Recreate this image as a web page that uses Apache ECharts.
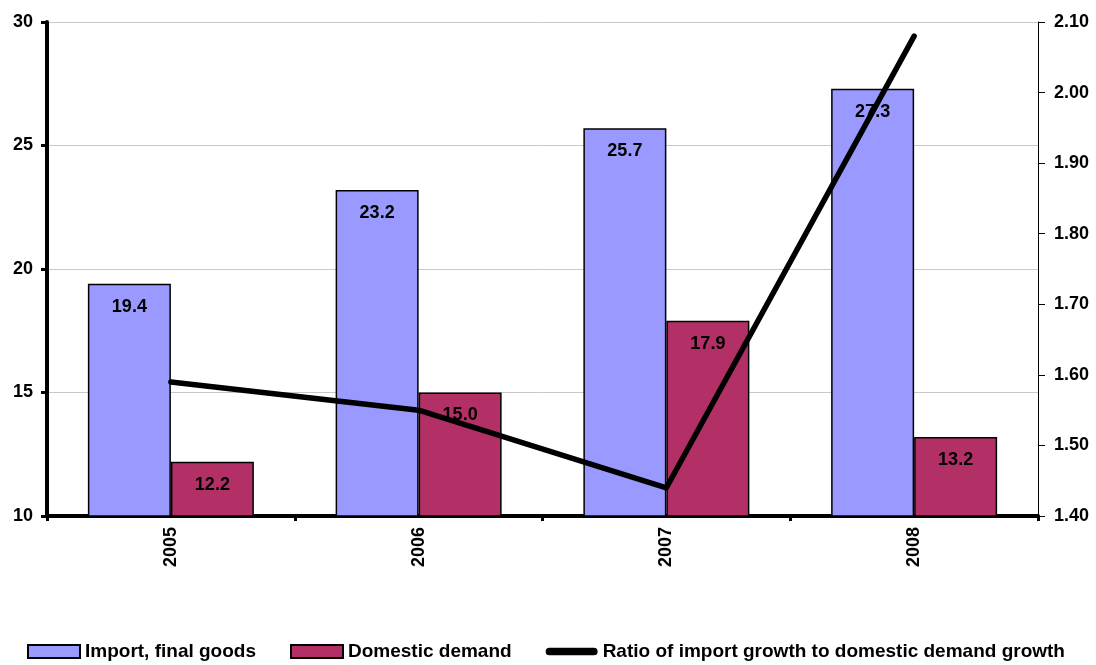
<!DOCTYPE html>
<html>
<head>
<meta charset="utf-8">
<script src="https://cdn.jsdelivr.net/npm/echarts@6/dist/echarts.min.js"></script>
<style>
  html, body { margin: 0; padding: 0; background: #fff; }
  #chart { width: 1096px; height: 665px; }
</style>
</head>
<body>
<div id="chart"></div>
<script>
// Years on the category axis
const years = ['2005', '2006', '2007', '2008'];
// Growth, % (left axis)
const importFinalGoods = [19.4, 23.2, 25.7, 27.3];
const domesticDemand = [12.2, 15.0, 17.9, 13.2];
// Ratio of import growth to domestic demand growth (right axis)
const growthRatio = [1.59, 1.55, 1.44, 2.08];

const FONT = 'Liberation Sans, Arial, sans-serif';
// Thick rounded stroke used as the legend marker of the ratio line
const LINE_ICON = 'path://M4,0 H50 A4,4 0 0 1 50,8 H4 A4,4 0 0 1 4,0 Z';

const chart = echarts.init(document.getElementById('chart'), null, { renderer: 'canvas' });

const barLabel = {
  show: true,
  position: 'insideTop',
  distance: 14,
  color: '#000',
  fontFamily: FONT,
  fontWeight: 'bold',
  fontSize: 18,
  formatter: p => p.value.toFixed(1)
};

chart.setOption({
  animation: false,
  backgroundColor: '#fff',
  grid: { left: 47, right: 58, top: 22, bottom: 149, containLabel: false },
  legend: {
    left: 22,
    top: 637,
    itemWidth: 52,
    itemHeight: 13,
    itemGap: 34,
    symbolKeepAspect: true,
    textStyle: { fontFamily: FONT, fontWeight: 'bold', fontSize: 19, color: '#000' },
    data: [
      { name: 'Import, final goods', icon: 'rect' },
      { name: 'Domestic demand', icon: 'rect' },
      { name: 'Ratio of import growth to domestic demand growth', icon: LINE_ICON, itemStyle: { color: '#000', borderWidth: 0 } }
    ]
  },
  xAxis: {
    type: 'category',
    data: years,
    axisLine: { lineStyle: { color: '#000', width: 4 } },
    axisTick: { show: true, length: 5, lineStyle: { color: '#000', width: 3 } },
    axisLabel: {
      rotate: 90,
      margin: 11,
      color: '#000',
      fontFamily: FONT,
      fontWeight: 'bold',
      fontSize: 18
    }
  },
  yAxis: [
    {
      type: 'value',
      min: 10,
      max: 30,
      interval: 5,
      axisLine: { show: true, lineStyle: { color: '#000', width: 4 } },
      axisTick: { show: true, length: 6, lineStyle: { color: '#000', width: 3 } },
      axisLabel: { margin: 14, color: '#000', fontFamily: FONT, fontWeight: 'bold', fontSize: 18 },
      splitLine: { show: true, lineStyle: { color: '#c8c8c8', width: 1 } }
    },
    {
      type: 'value',
      min: 1.4,
      max: 2.1,
      interval: 0.1,
      position: 'right',
      axisLine: { show: true, lineStyle: { color: '#000', width: 1 } },
      axisTick: { show: true, length: 7, lineStyle: { color: '#000', width: 1 } },
      axisLabel: {
        margin: 16,
        color: '#000',
        fontFamily: FONT,
        fontWeight: 'bold',
        fontSize: 18,
        formatter: v => v.toFixed(2)
      },
      splitLine: { show: false }
    }
  ],
  series: [
    {
      name: 'Import, final goods',
      type: 'bar',
      data: importFinalGoods,
      barWidth: 83,
      barGap: '0%',
      itemStyle: { color: '#9999ff', borderColor: '#000', borderWidth: 1.5 },
      label: barLabel,
      z: 2
    },
    {
      name: 'Domestic demand',
      type: 'bar',
      data: domesticDemand,
      barWidth: 83,
      barGap: '0%',
      itemStyle: { color: '#b33066', borderColor: '#000', borderWidth: 1.5 },
      label: barLabel,
      z: 2
    },
    {
      name: 'Ratio of import growth to domestic demand growth',
      type: 'line',
      yAxisIndex: 1,
      data: growthRatio,
      symbol: 'none',
      color: '#000',
      lineStyle: { color: '#000', width: 5.5, cap: 'round', join: 'round' },
      z: 5
    }
  ]
});
</script>
</body>
</html>
